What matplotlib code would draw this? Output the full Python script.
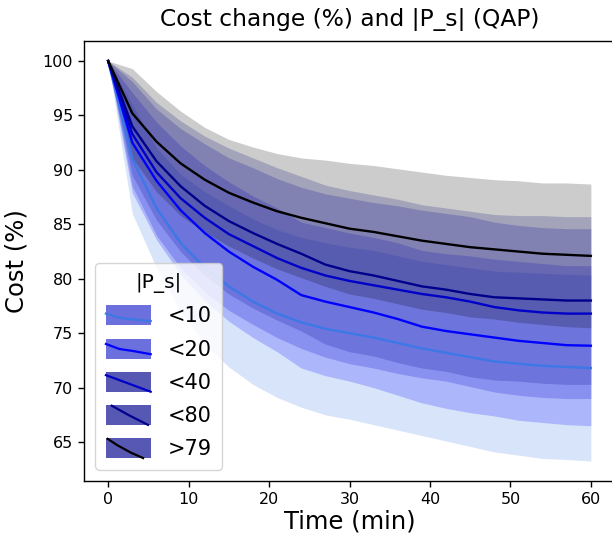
import numpy as np
import matplotlib.pyplot as plt
from matplotlib.legend_handler import HandlerBase
from matplotlib.patches import Rectangle
from matplotlib.lines import Line2D

# time axis (minutes)
t = [0, 3, 6, 9, 12, 15, 18, 21, 24, 27, 30, 33, 36, 39, 42, 45, 48, 51, 54, 57, 60]

labels = ["<10", "<20", "<40", "<80", ">79"]

# mean cost (%) per |P_s| group
mean_10 = [100, 91.0, 86.5, 83.3, 81.0, 79.3, 77.9, 76.8, 76.0, 75.4, 75.0, 74.6, 74.1, 73.6, 73.2, 72.8, 72.4, 72.2, 72.0, 71.9, 71.8]
mean_20 = [100, 92.5, 89.0, 86.3, 84.2, 82.5, 81.1, 79.9, 78.5, 77.9, 77.4, 76.9, 76.3, 75.6, 75.2, 74.9, 74.6, 74.3, 74.1, 73.9, 73.85]
mean_40 = [100, 93.3, 89.8, 87.4, 85.6, 84.1, 83.0, 81.9, 81.0, 80.3, 79.8, 79.4, 79.0, 78.6, 78.3, 77.9, 77.4, 77.1, 76.9, 76.8, 76.8]
mean_80 = [100, 94.0, 90.8, 88.5, 86.7, 85.3, 84.2, 83.2, 82.3, 81.3, 80.7, 80.3, 79.8, 79.3, 79.0, 78.6, 78.3, 78.2, 78.1, 78.0, 78.0]
mean_79 = [100, 95.2, 92.6, 90.6, 89.1, 87.9, 87.0, 86.2, 85.6, 85.1, 84.6, 84.3, 83.9, 83.5, 83.2, 82.9, 82.7, 82.5, 82.3, 82.2, 82.1]

# standard deviation per group
std_10 = [0, 5.0, 5.5, 6.3, 7.0, 7.4, 7.6, 7.7, 7.8, 7.9, 7.9, 8.0, 8.0, 8.0, 8.1, 8.2, 8.3, 8.4, 8.5, 8.5, 8.54]
std_20 = [0, 4.6, 5.4, 5.9, 6.2, 6.4, 6.5, 6.6, 6.7, 6.8, 6.8, 6.9, 7.0, 7.0, 7.1, 7.2, 7.2, 7.3, 7.3, 7.3, 7.35]
std_40 = [0, 4.8, 5.8, 6.4, 6.8, 7.0, 7.2, 7.3, 7.4, 7.5, 7.6, 7.6, 7.7, 7.7, 7.7, 7.8, 7.8, 7.8, 7.8, 7.8, 7.8]
std_80 = [0, 4.5, 5.4, 6.0, 6.4, 6.7, 6.9, 7.0, 7.1, 7.3, 7.4, 7.4, 7.5, 7.5, 7.5, 7.6, 7.6, 7.6, 7.7, 7.7, 7.7]
std_79 = [0, 4.1, 4.6, 4.8, 4.8, 4.9, 5.1, 5.3, 5.5, 5.8, 6.0, 6.1, 6.2, 6.3, 6.3, 6.4, 6.4, 6.5, 6.5, 6.6, 6.6]

means = [mean_10, mean_20, mean_40, mean_80, mean_79]
stds = [std_10, std_20, std_40, std_80, std_79]
colors = ["#3c78e6", "#0000ff", "#0000c8", "#00008c", "#000000"]
patch_colors = ["#6b70dc", "#6b70dc", "#5658b4", "#5658b4", "#5658b4"]

# little curves drawn inside each legend box (x, y fractions of the box)
handle_curves = [
    ([0.0, 0.3, 0.6, 1.0], [0.41, 0.62, 0.70, 0.78]),
    ([0.0, 0.3, 0.6, 1.0], [0.27, 0.52, 0.62, 0.78]),
    ([0.0, 1.0], [0.17, 1.0]),
    ([0.13, 0.5, 0.94], [0.04, 0.5, 1.0]),
    ([0.04, 0.25, 0.55, 0.83], [0.04, 0.35, 0.72, 1.0]),
]


class BoxCurveHandler(HandlerBase):
    def __init__(self, face, color, xs, ys):
        super().__init__()
        self.face, self.color, self.xs, self.ys = face, color, xs, ys

    def create_artists(self, legend, orig_handle, xdescent, ydescent,
                       width, height, fontsize, trans):
        rect = Rectangle((-xdescent, -ydescent), width, height,
                         facecolor=self.face, edgecolor="none", transform=trans)
        xs = [-xdescent + x * width for x in self.xs]
        ys = [-ydescent + (1 - y) * height for y in self.ys]
        line = Line2D(xs, ys, color=self.color, lw=1.6, transform=trans)
        return [rect, line]


fig = plt.figure(figsize=(6.12, 5.38), dpi=100)
ax = fig.add_axes([0.1373, 0.1059, 0.8676, 0.8179])

for m, s, c in zip(means, stds, colors):
    m = np.array(m)
    s = np.array(s)
    ax.fill_between(t, m - s, m + s, color=c, alpha=0.2, lw=0)
    ax.plot(t, m, color=c, lw=1.7)

ax.spines["right"].set_visible(False)
for sp in ax.spines.values():
    sp.set_linewidth(1.0)
ax.set_xticks([0, 10, 20, 30, 40, 50, 60])
ax.set_yticks([65, 70, 75, 80, 85, 90, 95, 100])
ax.tick_params(labelsize=11.5, length=4, width=1.0, pad=4)
ax.set_xlabel("Time (min)", fontsize=17.5, labelpad=2)
ax.set_ylabel("Cost (%)", fontsize=17.5, labelpad=10)
ax.set_title("Cost change (%) and |P_s| (QAP)", fontsize=16.8, pad=11)

proxies = [Rectangle((0, 0), 1, 1) for _ in labels]
hmap = {p: BoxCurveHandler(pc, c, xs, ys)
        for p, pc, c, (xs, ys) in zip(proxies, patch_colors, colors, handle_curves)}
ax.legend(proxies, labels, handler_map=hmap, title="|P_s|", loc="lower left",
          fontsize=15, title_fontsize=14.5, handlelength=2.15, handleheight=1.1,
          labelspacing=0.58, borderpad=0.5, borderaxespad=0.55)

fig.savefig("out.png", dpi=100)
